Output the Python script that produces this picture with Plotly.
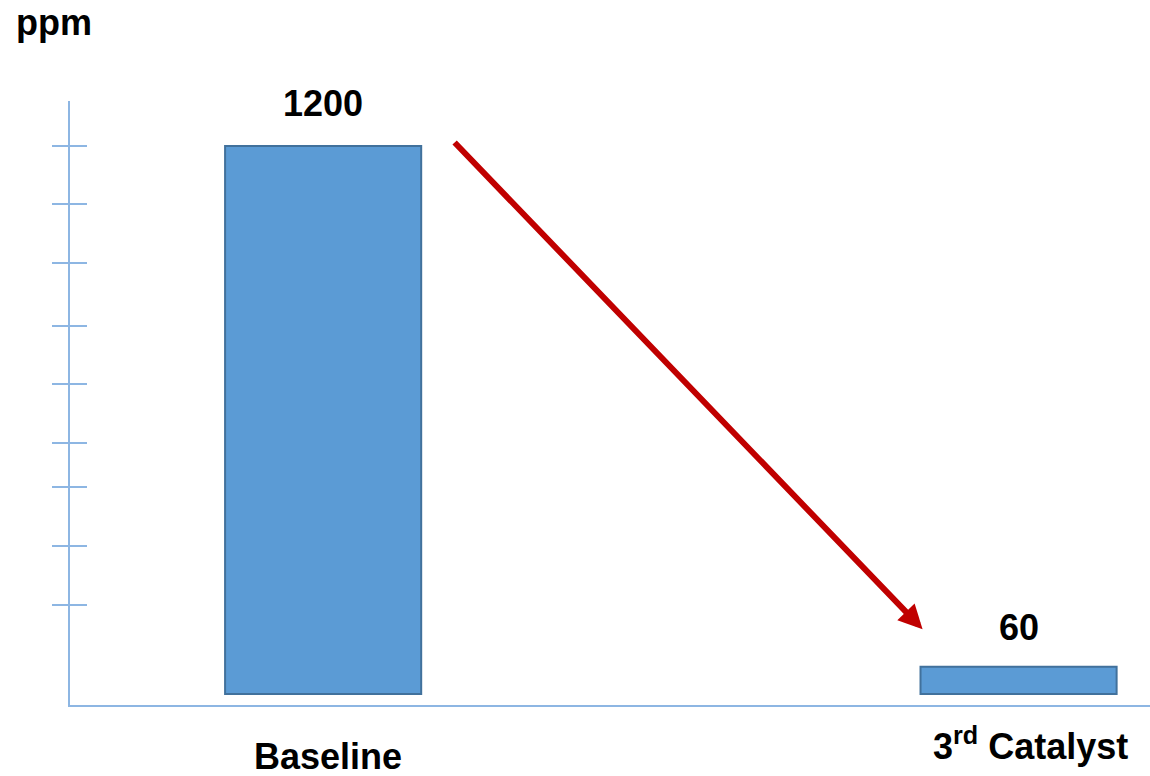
import plotly.graph_objects as go

categories = ["Baseline", "3rd Catalyst"]
category_labels = ["Baseline", "3<sup>rd</sup> Catalyst"]
values = [1200, 60]
value_labels = ["1200", "60"]
tick_values = [1200, 1073, 944, 806, 679, 550, 453, 324, 195]
unit_label = "ppm"

FONT = "Arial, Liberation Sans, sans-serif"
AXIS_COLOR = "#8DB6E3"

fig = go.Figure()
fig.add_trace(go.Bar(
    x=categories, y=values, width=0.282,
    marker=dict(color="#5B9BD5", line=dict(color="#41719C", width=2)),
    hoverinfo="skip", showlegend=False,
))
# empty helper trace so the overlaid tick axis (inner half of the crossing ticks) is drawn
fig.add_trace(go.Scatter(x=[], y=[], yaxis="y2", showlegend=False, hoverinfo="skip"))

annotations = []
value_shift = [42, 39]
for c, v, t, s in zip(categories, values, value_labels, value_shift):
    annotations.append(dict(x=c, y=v, xref="x", yref="y", text="<b>%s</b>" % t, showarrow=False,
                            yanchor="middle", yshift=s,
                            font=dict(family=FONT, size=36, color="black")))
label_dx = [5, 12]
label_dy = [-51, -39]
label_box = [40, None]
for c, t, dx, dy, h in zip(categories, category_labels, label_dx, label_dy, label_box):
    annotations.append(dict(x=c, y=0, xref="x", yref="paper", text="<b>%s</b>" % t,
                            showarrow=False, yanchor="middle", xshift=dx, yshift=dy,
                            height=h, valign="middle",
                            font=dict(family=FONT, size=36, color="black")))
annotations.append(dict(x=0, y=1, xref="paper", yref="paper", text="<b>%s</b>" % unit_label,
                        showarrow=False, xanchor="center", yanchor="middle",
                        xshift=-16, yshift=79,
                        font=dict(family=FONT, size=36, color="black")))
# trend arrow from baseline towards the 3rd catalyst
annotations.append(dict(x=0.862, y=142, ax=0.187, ay=1211, xref="x", yref="y",
                        axref="x", ayref="y", text="", showarrow=True,
                        arrowhead=2, arrowsize=0.8, arrowwidth=6, arrowcolor="#C00000"))

fig.update_layout(
    width=1150, height=776,
    margin=dict(l=70, r=0, t=101, b=71),
    paper_bgcolor="white", plot_bgcolor="white",
    annotations=annotations,
    xaxis=dict(type="category", range=[-0.364, 1.189], showline=True, linecolor=AXIS_COLOR,
               linewidth=2, ticks="", showticklabels=False, showgrid=False, zeroline=False,
               fixedrange=True),
    yaxis=dict(range=[-24, 1298.5], showline=True, linecolor=AXIS_COLOR, linewidth=2,
               ticks="outside", ticklen=16, tickwidth=2, tickcolor=AXIS_COLOR,
               tickvals=tick_values, showticklabels=False, showgrid=False, zeroline=False),
    yaxis2=dict(range=[-24, 1298.5], overlaying="y", side="left", anchor="x",
                ticks="inside", ticklen=17, tickwidth=2, tickcolor=AXIS_COLOR,
                tickvals=tick_values, showticklabels=False, showgrid=False,
                zeroline=False, showline=False),
)

fig.write_html("out.html")
